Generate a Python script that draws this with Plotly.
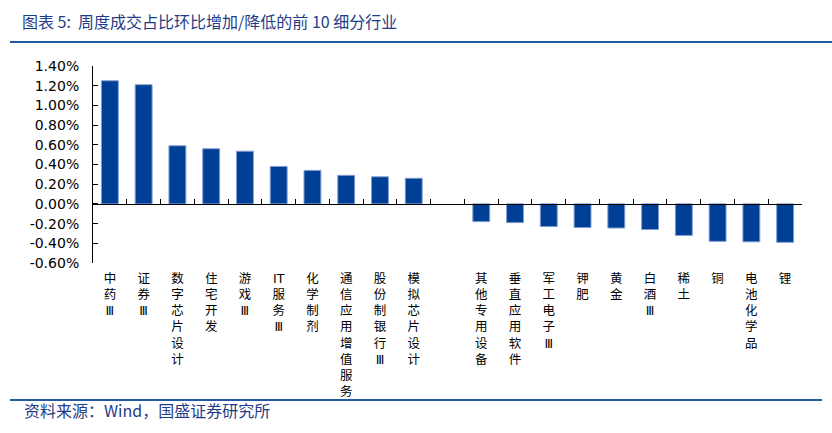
import plotly.graph_objects as go

# ---- data ----
categories = ["中药Ⅲ", "证券Ⅲ", "数字芯片设计", "住宅开发", "游戏Ⅲ", "IT服务Ⅲ", "化学制剂",
              "通信应用增值服务", "股份制银行Ⅲ", "模拟芯片设计", "",
              "其他专用设备", "垂直应用软件", "军工电子Ⅲ", "钾肥", "黄金", "白酒Ⅲ", "稀土",
              "铜", "电池化学品", "锂"]
values = [1.25, 1.21, 0.59, 0.56, 0.535, 0.38, 0.34, 0.29, 0.275, 0.26, None,
          -0.18, -0.19, -0.23, -0.24, -0.245, -0.26, -0.32, -0.38, -0.385, -0.39]
y_ticks = [1.4, 1.2, 1.0, 0.8, 0.6, 0.4, 0.2, 0.0, -0.2, -0.4, -0.6]
y_tick_labels = ["1.40%", "1.20%", "1.00%", "0.80%", "0.60%", "0.40%", "0.20%", "0.00%",
                 "-0.20%", "-0.40%", "-0.60%"]
title_text = "图表 5:\u00a0\u00a0周度成交占比环比增加/降低的前 10 细分行业"
source_text = "资料来源：Wind，国盛证券研究所"


def stack(name, idx):
    if name == "":
        return " " * (idx + 1)
    parts = []
    i = 0
    while i < len(name):
        if name[i:i + 2] == "IT":
            parts.append("IT")
            i += 2
        else:
            parts.append(name[i])
            i += 1
    return "<br>".join(parts)


labels = [stack(c, i) for i, c in enumerate(categories)]

W, H = 832, 433
L, R, T, B = 93, 30, 66, 170
pw, ph = W - L - R, H - T - B


def px_x(x):
    return (x - L) / pw


def px_y(y):
    return (H - B - y) / ph


fig = go.Figure()
fig.add_trace(go.Bar(
    x=labels, y=values,
    marker=dict(color="#003F96", line=dict(color="#7F9DCF", width=1)),
    hoverinfo="skip",
))
# invisible helper trace for the zero-line axis
fig.add_trace(go.Scatter(x=[0], y=[0], xaxis="x2", mode="markers",
                         marker=dict(opacity=0), hoverinfo="skip", showlegend=False))

fig.update_layout(
    width=W, height=H,
    margin=dict(l=L, r=R, t=T, b=B),
    paper_bgcolor="white", plot_bgcolor="white",
    showlegend=False,
    bargap=0.5,
    title=dict(text=title_text, x=22 / W, xanchor="left", xref="container",
               y=1 - 22 / H, yanchor="middle", yref="container",
               font=dict(family="Noto Sans CJK SC", size=16, color="#1F3C88")),
    xaxis=dict(type="category", showline=False, ticks="", showgrid=False, zeroline=False,
               tickangle=0, ticklabelstandoff=6,
               tickfont=dict(family="DejaVu Sans, Noto Sans CJK SC", size=12.5, color="black"),
               range=[-0.5, len(categories) - 0.5]),
    xaxis2=dict(overlaying="x", anchor="free", position=0.3,
                range=[-0.5, len(categories) - 0.5],
                tickvals=[i + 0.5 for i in range(len(categories))],
                showticklabels=False, ticks="inside", ticklen=5, tickcolor="black",
                showline=True, linecolor="black", linewidth=1, showgrid=False, zeroline=False),
    yaxis=dict(range=[-0.6, 1.4], tickvals=y_ticks, ticktext=y_tick_labels,
               showline=True, linecolor="black", linewidth=1, ticks="inside", ticklen=5,
               tickcolor="black", showgrid=False, zeroline=False, ticklabelstandoff=10,
               tickfont=dict(family="DejaVu Sans", size=14, color="black")),
    shapes=[
        dict(type="line", xref="paper", yref="paper", x0=px_x(10), x1=px_x(832),
             y0=px_y(42), y1=px_y(42), line=dict(color="#2259A5", width=2)),
        dict(type="line", xref="paper", yref="paper", x0=px_x(10), x1=px_x(822),
             y0=px_y(400), y1=px_y(400), line=dict(color="#2259A5", width=2)),
    ],
    annotations=[
        dict(text=source_text, xref="paper", yref="paper", x=px_x(22), y=px_y(410),
             xanchor="left", yanchor="middle", showarrow=False,
             font=dict(family="Noto Sans CJK SC", size=16, color="#1F3C88")),
    ],
)

fig.write_html("out.html", config={"displayModeBar": False},
               post_script="document.body.style.margin='0';")
